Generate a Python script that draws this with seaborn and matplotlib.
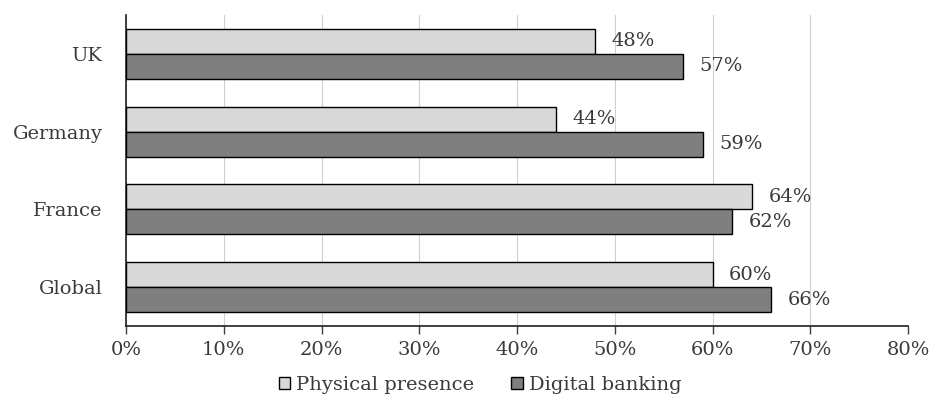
import matplotlib
matplotlib.use("Agg")
import matplotlib.pyplot as plt
import seaborn as sns
import pandas as pd
from matplotlib.patches import Patch

regions = ["UK", "Germany", "France", "Global"]
physical_presence = [48, 44, 64, 60]
digital_banking = [57, 59, 62, 66]
series_names = ["Physical presence", "Digital banking"]
x_ticks = [0, 10, 20, 30, 40, 50, 60, 70, 80]

df = pd.DataFrame({
    "region": regions * 2,
    "share": physical_presence + digital_banking,
    "channel": [series_names[0]] * len(regions) + [series_names[1]] * len(regions),
})

sns.set_theme(style="white")
plt.rcParams["font.family"] = ["DejaVu Serif", "Liberation Serif"]

colors = {"Physical presence": "#d9d9d9", "Digital banking": "#7f7f7f"}
text_color = "#3a3a3a"
fs = 14

fig = plt.figure(figsize=(9.36, 4.0), dpi=100)
ax = fig.add_axes([126 / 936, 1 - 326 / 400, (908 - 126) / 936, (326 - 15) / 400])

sns.barplot(data=df, y="region", x="share", hue="channel", order=regions,
            hue_order=series_names, palette=colors, orient="h", width=0.64,
            gap=0, edgecolor="black", linewidth=1.0, ax=ax, legend=False,
            zorder=3)

for container in ax.containers:
    ax.bar_label(container, labels=[f"{v:.0f}%" for v in container.datavalues],
                 padding=12, fontsize=fs, color=text_color)

ax.set_xlim(0, 80)
ax.set_xticks(x_ticks)
ax.set_xticklabels([f"{t}%" for t in x_ticks], fontsize=fs, color=text_color)
ax.tick_params(axis="y", labelsize=fs, labelcolor=text_color, length=0, pad=17)
ax.tick_params(axis="x", direction="out", length=6, width=1, color="#404040",
               bottom=True, pad=5)
ax.set_xlabel("")
ax.set_ylabel("")
ax.xaxis.grid(True, color="#d0d0d0", linewidth=0.8, zorder=0)
ax.set_axisbelow(True)

for side in ["top", "right"]:
    ax.spines[side].set_visible(False)
for side in ["left", "bottom"]:
    ax.spines[side].set_color("#202020")
    ax.spines[side].set_linewidth(1.2)

handles = [Patch(facecolor=colors[n], edgecolor="black", linewidth=1.0, label=n)
           for n in series_names]
fig.legend(handles=handles, loc="center", bbox_to_anchor=(480 / 936, 1 - 385 / 400),
           ncol=2, frameon=False, fontsize=fs, handlelength=0.6, handleheight=0.6,
           handletextpad=0.3, columnspacing=1.9, labelcolor=text_color)

fig.savefig("out.png", dpi=100)
